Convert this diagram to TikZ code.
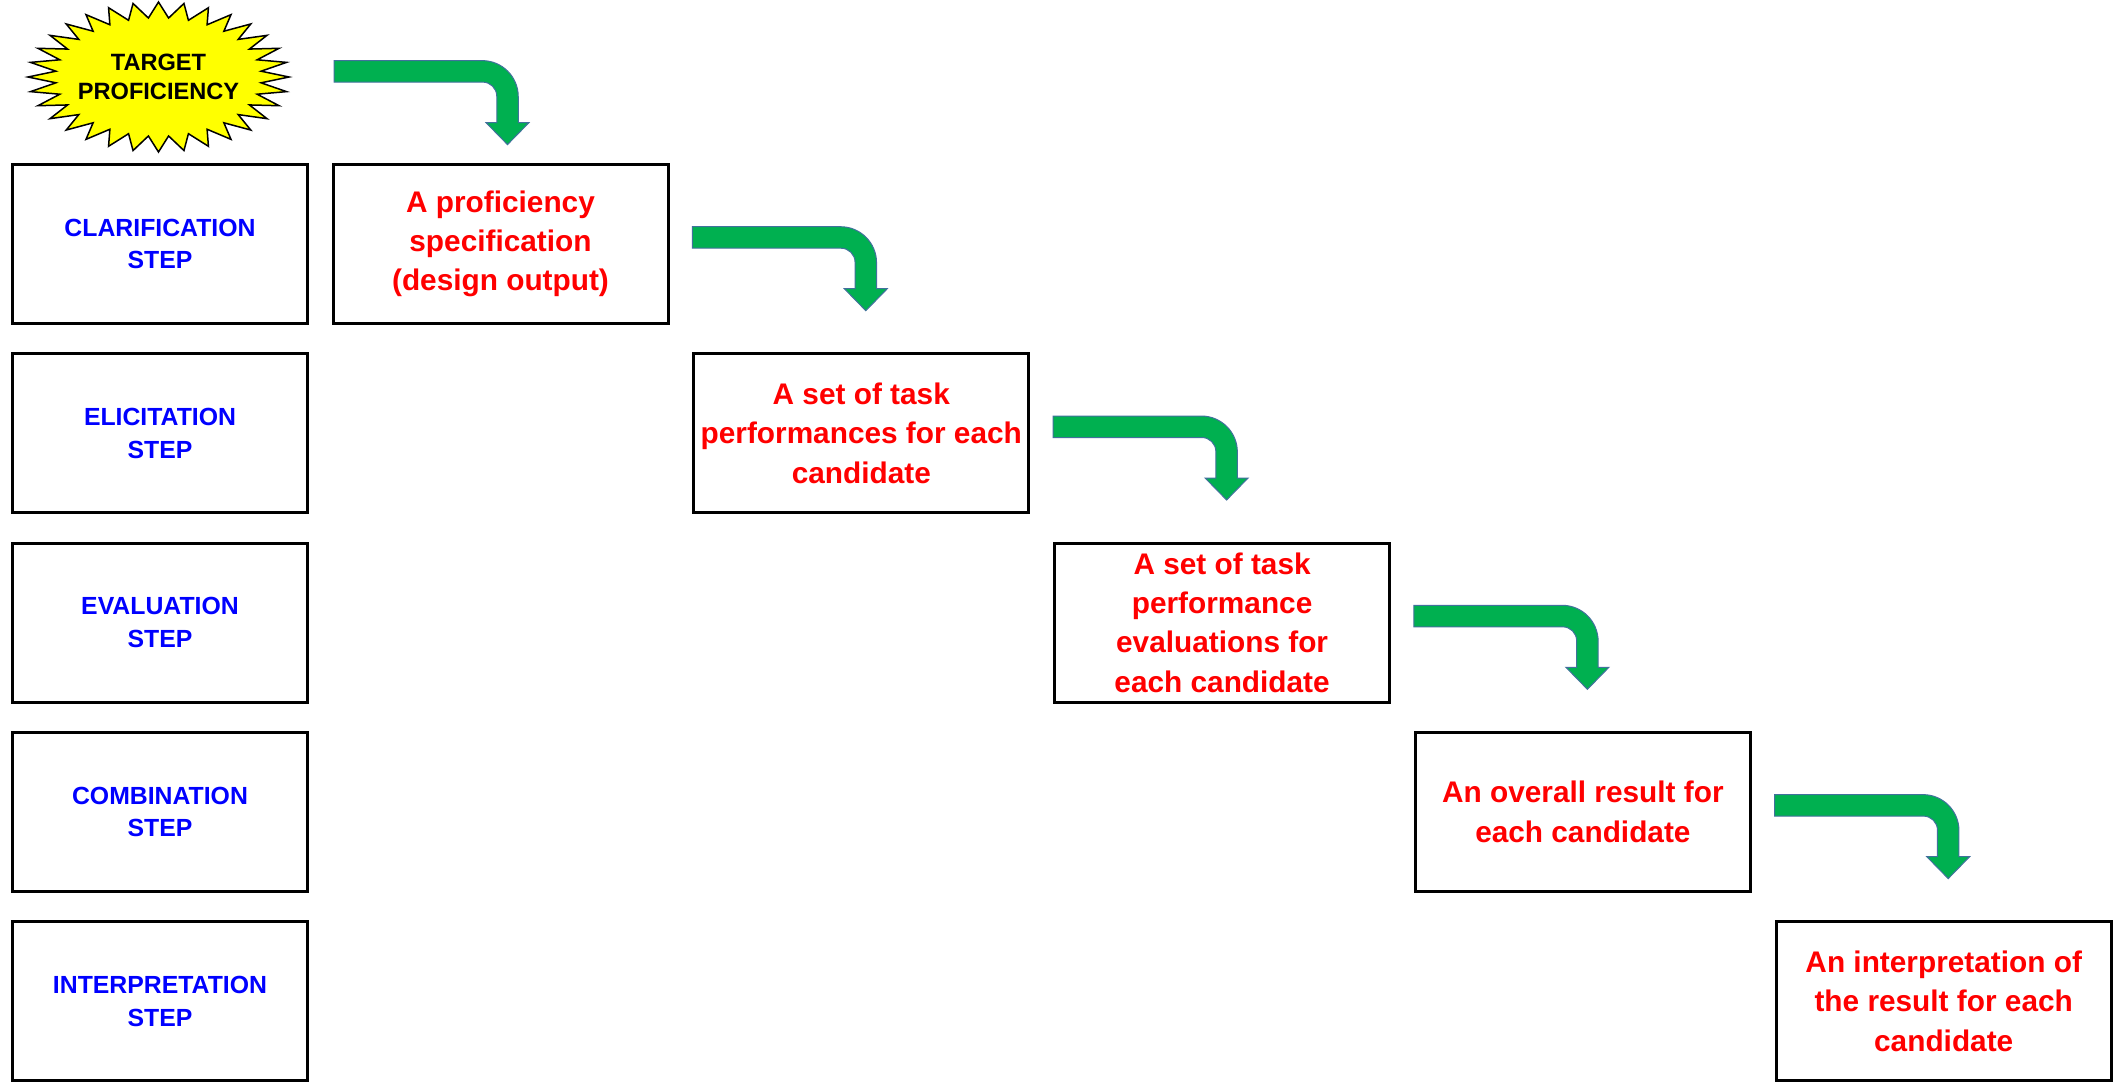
\documentclass[tikz,border=0pt]{standalone}
\usepackage{fontspec}
\setmainfont{Liberation Sans}
\usetikzlibrary{calc}

\definecolor{stepblue}{HTML}{0000FF}
\definecolor{outred}{HTML}{FF0000}
\definecolor{flowgreen}{HTML}{00B050}
\definecolor{flowedge}{HTML}{41719C}
\definecolor{burst}{HTML}{FFFF00}

\tikzset{
  framebox/.style={draw=black, line width=3, inner sep=0, outer sep=0,
    align=center, minimum height=159},
  stepbox/.style={framebox, minimum width=295, text=stepblue,
    font=\bfseries\fontsize{24.8}{32.7}\selectfont},
  outbox/.style={framebox, minimum width=335, text=outred,
    font=\bfseries\fontsize{29.8}{39.3}\selectfont},
  bursttext/.style={inner sep=0, align=center, text=black,
    font=\bfseries\fontsize{23.6}{28.6}\selectfont},
  bentarrow/.pic={
    \filldraw[fill=flowgreen, draw=flowedge, line width=1]
      (0,0) -- (148.25,0)
      .. controls (168.15,0) and (184.25,16.1) .. (184.25,36)
      -- (184.25,62) -- (195,62) -- (173.5,84) -- (152,62) -- (162.75,62)
      -- (162.75,35.5)
      .. controls (162.75,27.8) and (156.45,21.5) .. (148.75,21.5)
      -- (0,21.5) -- cycle;
  }
}

\begin{document}
\begin{tikzpicture}[x=1pt,y=-1pt]
\useasboundingbox (0,0) rectangle (2113,1088);
\fill[white] (0,0) rectangle (2113,1088);

% starburst with the target proficiency (32 points, inner radius 0.79)
\filldraw[fill=burst, draw=black, line width=1.5]
  plot[variable=\k, samples at={0,...,63}]
  ({158.5+130.5*(0.895+0.105*cos(180*\k))*cos(90+5.625*\k)},
   {77-75*(0.895+0.105*cos(180*\k))*sin(90+5.625*\k)}) -- cycle;
\node[bursttext] (target) at (158.5,77) {TARGET\\PROFICIENCY};

% step labels, left column
\node[stepbox] (s1) at (160,244)    {CLARIFICATION\\STEP};
\node[stepbox] (s2) at (160,433.3)  {ELICITATION\\STEP};
\node[stepbox] (s3) at (160,622.6)  {EVALUATION\\STEP};
\node[stepbox] (s4) at (160,811.9)  {COMBINATION\\STEP};
\node[stepbox] (s5) at (160,1001.2) {INTERPRETATION\\STEP};

% outputs of each step, staircase
\node[outbox] (d1) at (500.5,244)    {A proficiency\\specification\\(design output)};
\node[outbox] (d2) at (861.3,433.3)  {A set of task\\performances for each\\candidate};
\node[outbox] (d3) at (1222.1,622.6) {A set of task\\performance\\evaluations for\\each candidate};
\node[outbox] (d4) at (1582.9,811.9) {An overall result for\\each candidate};
\node[outbox] (d5) at (1943.7,1001.2) {An interpretation of\\the result for each\\candidate};

% bent arrows leading down the staircase
\coordinate (a1) at ($(d1.north west)+(1,-103.9)$);
\coordinate (a2) at ($(d2.west |- d1.north)+(-1.5,62.2)$);
\coordinate (a3) at ($(d3.west |- d2.north)+(-1.5,62.2)$);
\coordinate (a4) at ($(d4.west |- d3.north)+(-1.5,62.2)$);
\coordinate (a5) at ($(d5.west |- d4.north)+(-1.5,62.2)$);
\foreach \a in {a1,a2,a3,a4,a5} {
  \pic at (\a) {bentarrow};
}
\end{tikzpicture}
\end{document}
